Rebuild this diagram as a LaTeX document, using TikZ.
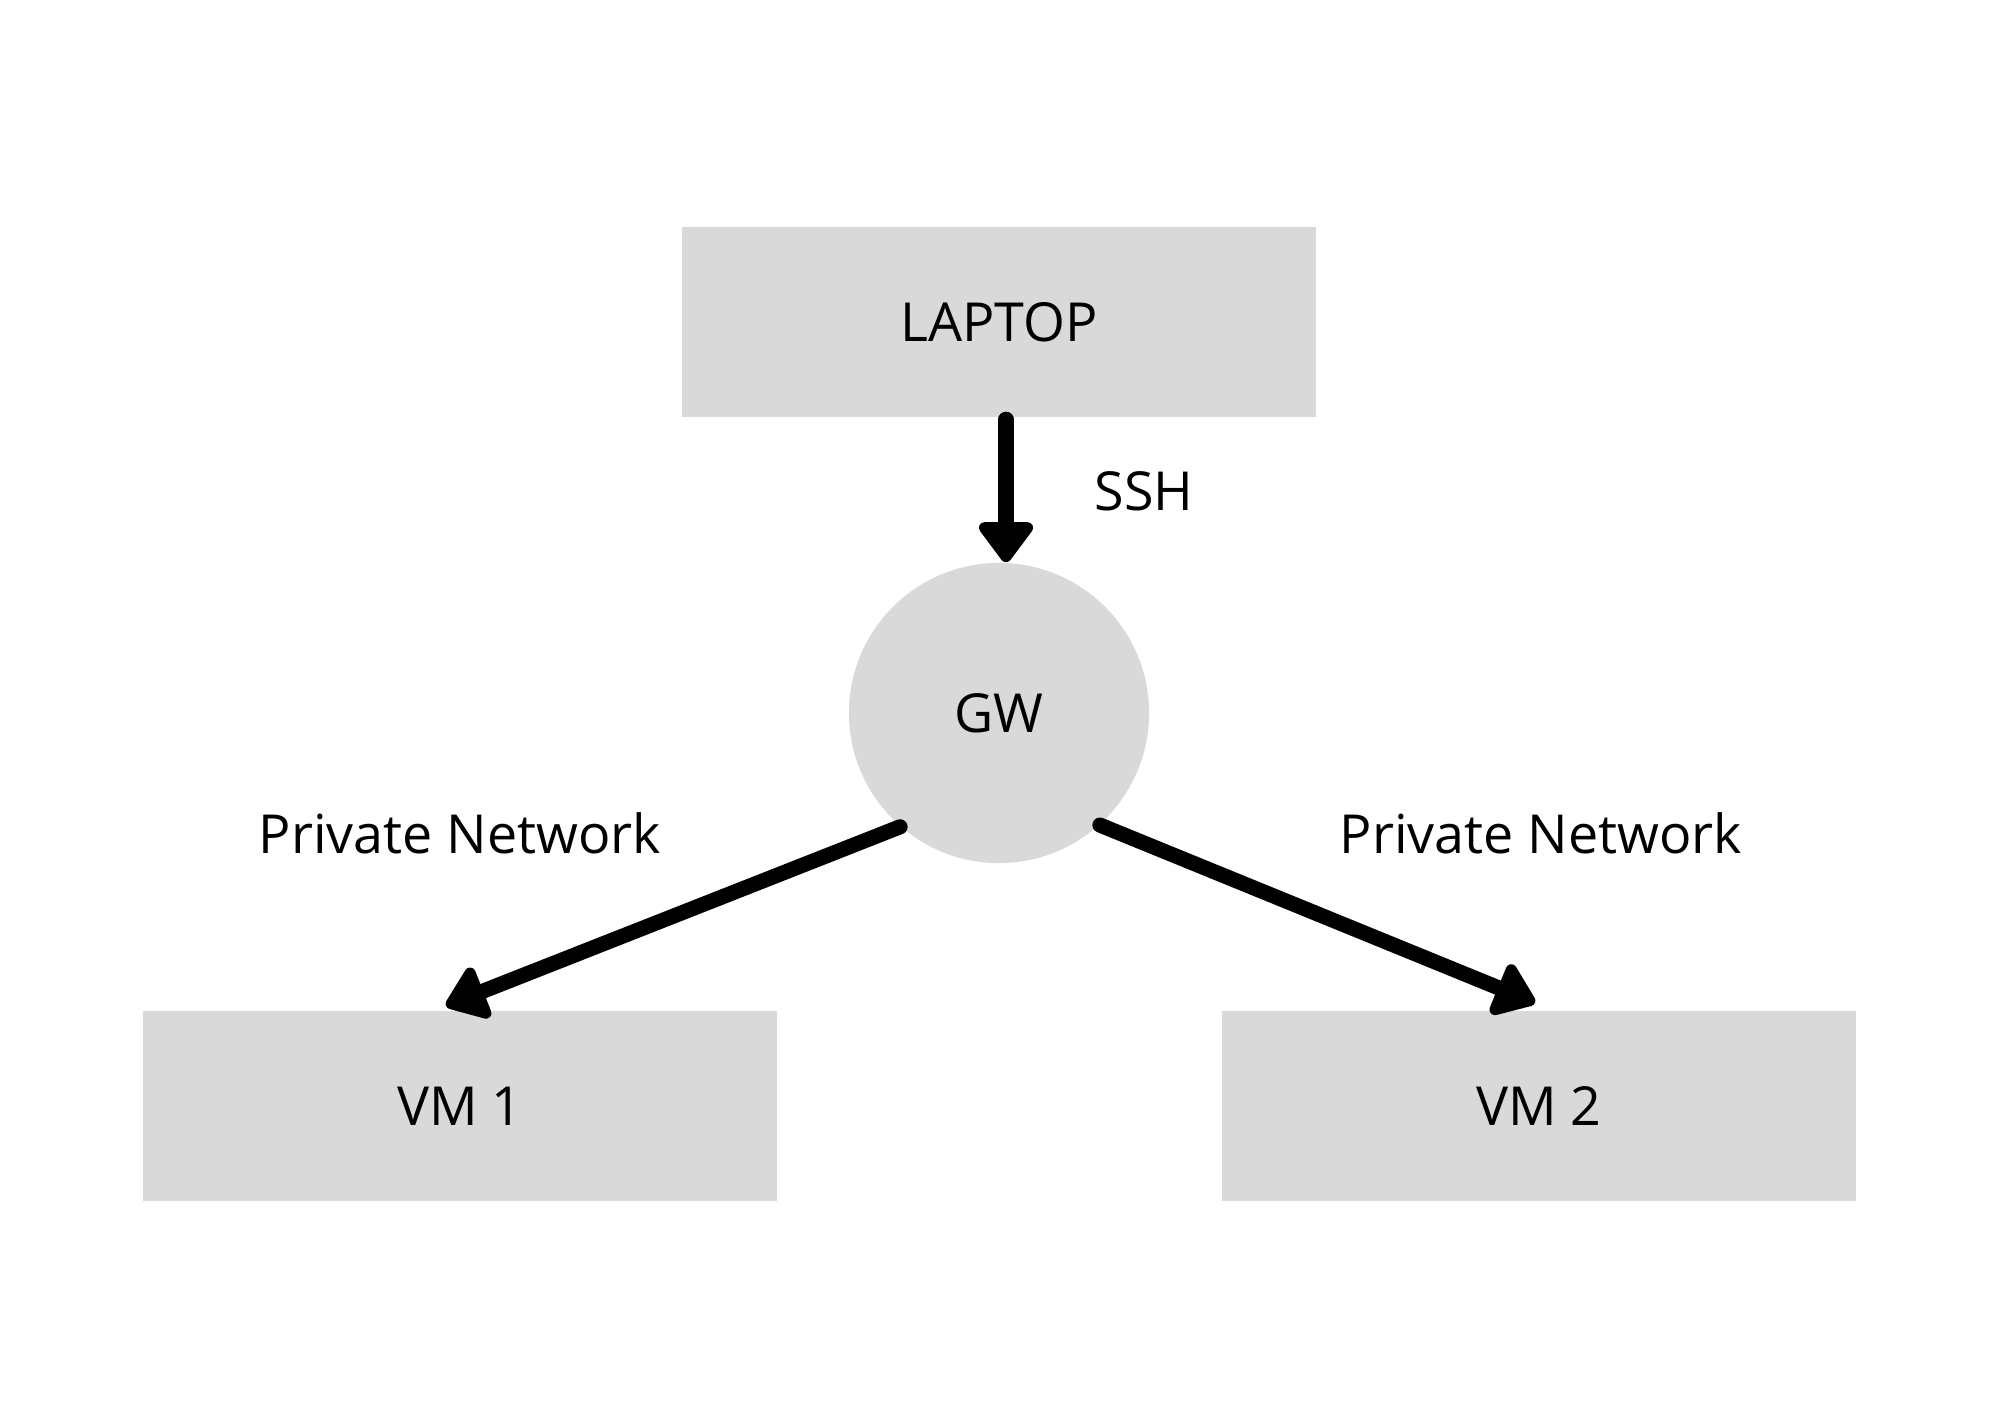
\documentclass[tikz,border=0pt]{standalone}
\usepackage{fontspec}
\setmainfont{Open Sans}
\usetikzlibrary{arrows.meta}
\definecolor{boxgray}{HTML}{D9D9D9}

\begin{document}
\begin{tikzpicture}[
        x=0.01cm, y=-0.01cm,
        font=\fontsize{15.3}{18}\selectfont,
        hostbox/.style={fill=boxgray, minimum width=6.34cm, minimum height=1.89cm, inner sep=0pt},
        gwnode/.style={circle, fill=boxgray, minimum size=3.0cm, inner sep=0pt},
        link/.style={line width=4.3pt, line cap=round, -{Triangle[round, length=0.44cm, width=0.62cm]}}
    ]
        \useasboundingbox (0,0) rectangle (2000,1428);

        % nodes
        \node[hostbox] (laptop) at (999,322) {LAPTOP};
        \node[gwnode] (gw) at (999,713) {GW};
        \node[hostbox] (vm1) at (460,1106) {VM 1};
        \node[hostbox] (vm2) at (1539,1106) {VM 2};

        % links
        \draw[link] ([xshift=0.07cm, yshift=-0.02cm]laptop.south) -- ([xshift=0.07cm]gw.north);
        \draw[link] (gw.229) -- ([xshift=-0.14cm, yshift=0.05cm]vm1.north);
        \draw[link] (gw.312) -- ([xshift=-0.04cm, yshift=0.08cm]vm2.north);

        % labels
        \node (ssh) at (1144,491) {SSH};
        \node (pnleft) at (460,833) {Private Network};
        \node (pnright) at (1541,833) {Private Network};

    \end{tikzpicture}
\end{document}
